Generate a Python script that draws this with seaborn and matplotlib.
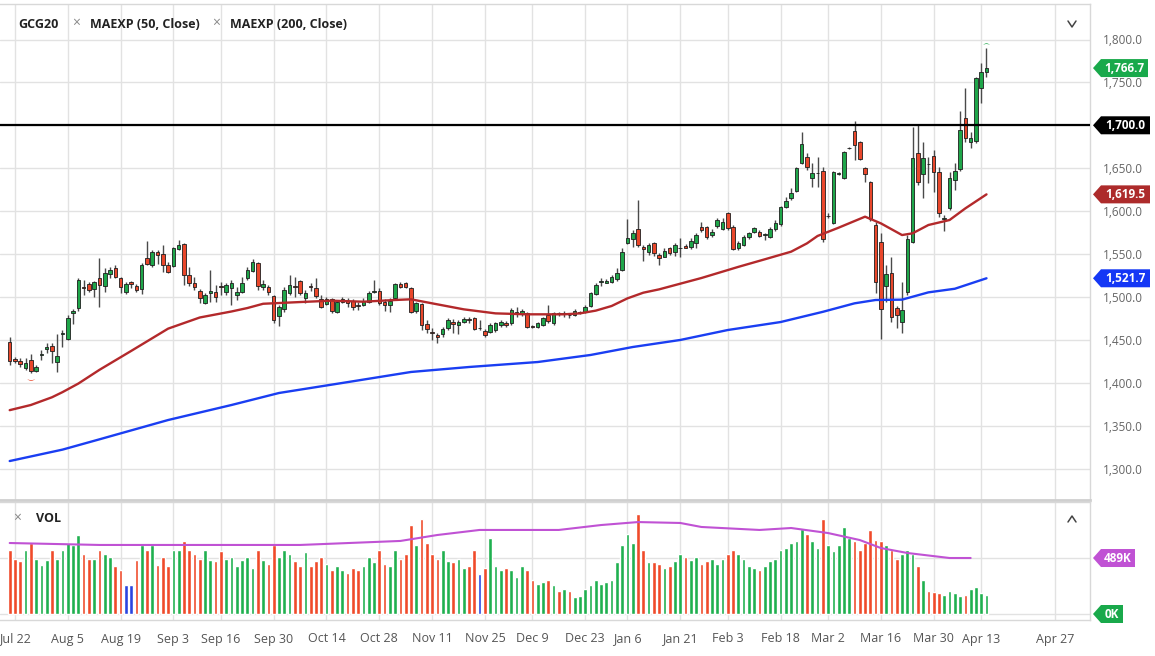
import numpy as np
import pandas as pd
import matplotlib
matplotlib.use("Agg")
import matplotlib.pyplot as plt
import seaborn as sns
from matplotlib.patches import Polygon
import matplotlib.transforms as mtrans
from matplotlib.lines import Line2D

sns.set_style("white")
plt.rcParams['font.family'] = ['Open Sans', 'DejaVu Sans']

# ---------------- data ----------------
opens = [1447.8,1427.9,1425.2,1417.5,1426.0,1413.6,1432.1,1438.8,1443.1,1424.5,1457.0,1450.5,1480.8,1486.6,1511.9,1515.4,1508.8,1521.6,1513.0,1526.3,
         1533.3,1522.4,1506.1,1517.7,1512.7,1509.2,1544.9,1537.1,1551.9,1549.6,1537.2,1536.0,1555.8,1561.7,1525.5,1516.6,1506.9,1493.3,1504.9,1506.1,
         1512.7,1506.1,1510.0,1502.2,1506.1,1521.6,1530.6,1539.9,1511.2,1511.2,1501.0,1477.7,1485.5,1504.9,1512.7,1518.5,1498.3,1512.0,1510.8,1497.6,
         1491.7,1497.2,1482.8,1494.4,1495.6,1495.2,1489.8,1490.6,1493.7,1506.0,1507.2,1494.4,1490.6,1498.3,1515.0,1515.8,1510.0,1484.0,1491.7,1468.4,
         1459.5,1455.6,1456.4,1463.4,1471.1,1467.2,1471.1,1473.1,1475.0,1463.4,1460.6,1459.5,1461.5,1467.2,1470.0,1469.2,1480.8,1480.1,1480.8,1465.3,
         1465.3,1467.2,1478.9,1470.0,1480.1,1480.0,1478.9,1478.9,1481.6,1482.8,1489.4,1503.4,1517.0,1516.6,1517.8,1520.5,1531.4,1562.4,1567.1,1578.8,
         1557.8,1552.7,1563.2,1549.0,1546.9,1556.6,1552.7,1556.6,1559.3,1558.5,1562.4,1581.1,1581.1,1572.1,1582.6,1578.8,1598.2,1581.9,1556.6,1560.5,
         1570.2,1576.0,1575.6,1572.1,1569.4,1578.8,1585.0,1605.2,1614.9,1623.8,1656.5,1662.7,1638.2,1644.0,1646.7,1593.8,1585.7,1643.5,1638.2,1673.0,
         1693.3,1680.1,1649.8,1633.5,1583.8,1563.6,1513.1,1527.5,1486.7,1471.1,1505.3,1564.4,1667.3,1642.9,1655.3,1664.6,1645.2,1590.9,1603.2,1636.2,
         1649.1,1708.1,1680.1,1681.7,1743.9,1762.0]
highs = [1453.6,1429.9,1429.1,1428.3,1433.4,1420.6,1438.1,1445.8,1445.8,1457.1,1461.4,1478.9,1485.9,1521.6,1519.7,1517.7,1518.5,1544.9,1534.0,1534.8,
         1537.1,1523.5,1517.7,1518.9,1514.6,1539.1,1565.1,1554.6,1554.6,1560.4,1541.1,1558.5,1566.3,1562.4,1535.2,1523.6,1508.8,1504.2,1531.4,1513.9,
         1517.8,1515.8,1519.7,1511.2,1523.6,1535.2,1543.8,1541.1,1519.7,1513.9,1502.2,1490.6,1511.2,1525.5,1523.6,1519.7,1508.0,1516.6,1521.6,1502.2,
         1500.3,1498.3,1496.4,1500.3,1498.3,1497.2,1494.4,1498.3,1507.2,1519.7,1510.0,1497.2,1498.3,1515.8,1517.8,1517.8,1511.2,1494.4,1492.5,1473.1,
         1463.4,1457.5,1464.5,1475.0,1473.9,1473.1,1477.0,1476.2,1476.2,1473.1,1462.2,1469.2,1471.0,1473.1,1472.3,1486.7,1488.6,1485.5,1482.8,1467.2,
         1471.1,1476.9,1490.6,1482.8,1482.8,1484.0,1481.6,1485.5,1484.0,1490.6,1506.1,1515.8,1521.6,1520.5,1525.5,1533.3,1556.6,1590.4,1578.0,1612.9,
         1560.5,1563.2,1564.4,1551.0,1556.6,1558.5,1562.4,1568.3,1561.7,1568.3,1574.9,1587.7,1582.6,1578.8,1591.6,1591.6,1599.4,1583.8,1565.5,1572.1,
         1576.0,1581.9,1578.0,1574.1,1581.1,1589.6,1605.9,1616.0,1626.5,1651.8,1692.6,1667.3,1655.7,1663.5,1651.8,1597.4,1646.7,1646.0,1670.0,1675.1,
         1705.0,1681.7,1651.8,1635.0,1587.7,1574.1,1537.2,1546.9,1489.8,1517.8,1572.1,1698.4,1700.3,1680.1,1663.4,1671.2,1651.8,1595.4,1645.9,1655.7,
         1716.7,1743.1,1692.6,1756.7,1772.2,1789.7]
lows = [1420.6,1422.5,1418.6,1414.8,1410.9,1412.8,1426.4,1434.2,1422.5,1412.0,1441.9,1449.3,1468.4,1483.9,1502.2,1506.1,1499.5,1488.6,1506.1,1521.6,
        1521.6,1504.1,1502.9,1509.9,1506.1,1502.9,1537.1,1535.2,1537.9,1529.4,1527.5,1535.2,1554.7,1513.9,1512.7,1508.0,1492.5,1491.7,1494.4,1494.4,
        1502.2,1502.2,1490.6,1496.4,1504.2,1519.7,1529.4,1508.0,1508.0,1502.2,1469.2,1466.1,1482.8,1502.2,1500.3,1502.2,1492.5,1507.2,1498.3,1486.7,
        1490.6,1480.8,1480.8,1492.5,1488.6,1484.7,1484.7,1489.4,1492.5,1504.9,1490.6,1483.9,1482.8,1497.2,1510.0,1510.0,1480.8,1481.6,1461.4,1458.3,
        1449.8,1446.7,1453.7,1461.4,1457.5,1456.7,1469.2,1470.0,1461.4,1461.4,1453.7,1458.3,1459.0,1465.3,1464.5,1467.2,1477.0,1477.7,1463.4,1463.4,
        1464.1,1466.1,1469.2,1467.2,1477.7,1476.9,1475.0,1477.7,1480.1,1480.8,1488.6,1502.2,1512.7,1515.8,1516.6,1518.9,1530.6,1561.7,1558.5,1558.5,
        1542.2,1548.8,1547.7,1537.2,1546.1,1548.8,1547.7,1546.9,1556.6,1555.4,1556.6,1576.0,1567.1,1569.4,1579.9,1578.0,1578.0,1554.7,1554.7,1559.3,
        1567.1,1574.1,1569.4,1566.3,1568.6,1577.2,1582.6,1603.6,1612.9,1622.7,1654.9,1647.9,1628.5,1628.5,1564.4,1591.6,1584.6,1642.0,1637.4,1672.4,
        1659.6,1659.6,1634.3,1588.5,1504.1,1450.9,1494.4,1471.1,1463.4,1457.5,1502.2,1562.4,1630.4,1614.9,1632.4,1622.6,1593.5,1576.8,1601.3,1624.6,
        1646.7,1680.9,1673.2,1679.0,1725.6,1756.7]
closes = [1425.6,1425.6,1421.3,1422.5,1413.6,1418.2,1433.6,1441.2,1436.9,1431.5,1457.5,1475.8,1483.5,1519.3,1510.0,1508.0,1517.0,1513.8,1527.4,1530.9,
          1523.5,1511.1,1515.4,1515.4,1508.0,1537.1,1537.9,1551.9,1548.8,1537.1,1529.4,1556.6,1560.5,1525.5,1515.8,1511.2,1499.1,1502.2,1506.9,1499.5,
          1511.2,1513.9,1516.6,1506.1,1515.8,1531.4,1541.1,1512.7,1515.0,1506.1,1473.1,1487.8,1508.0,1513.9,1511.2,1504.2,1504.2,1511.9,1501.0,1488.6,
          1497.2,1483.5,1493.7,1497.6,1492.5,1487.8,1489.5,1495.2,1504.9,1506.1,1492.5,1490.2,1495.6,1515.0,1511.9,1511.9,1482.8,1492.5,1467.2,1462.2,
          1458.3,1453.7,1462.2,1473.1,1468.4,1471.1,1473.9,1473.0,1462.2,1463.3,1455.6,1467.2,1469.0,1471.1,1467.6,1484.7,1482.8,1484.0,1464.5,1465.0,
          1469.2,1475.0,1472.3,1480.8,1480.0,1480.3,1478.7,1484.0,1481.8,1488.6,1504.2,1513.9,1518.9,1518.9,1522.8,1528.2,1552.7,1568.2,1574.9,1560.5,
          1555.4,1560.5,1551.5,1545.0,1553.9,1550.8,1560.5,1556.8,1557.4,1565.5,1572.1,1578.0,1569.4,1576.0,1589.6,1587.7,1579.9,1555.4,1562.4,1570.2,
          1574.1,1579.9,1570.9,1572.2,1578.8,1586.5,1604.4,1612.2,1621.5,1649.8,1677.8,1651.0,1644.0,1644.2,1567.5,1594.5,1645.2,1644.3,1668.5,1673.5,
          1677.0,1660.7,1642.9,1590.8,1517.0,1485.9,1526.3,1477.0,1478.9,1484.3,1567.5,1661.5,1634.3,1661.5,1654.6,1645.2,1597.4,1591.8,1638.2,1646.7,
          1694.5,1685.6,1684.8,1754.7,1762.5,1766.7]
volumes_k = [560,480,460,560,620,480,430,470,560,480,560,620,600,690,520,480,480,560,520,500,
             420,380,250,250,470,600,560,600,430,500,420,560,560,640,560,520,480,560,470,460,
             550,480,500,420,470,500,400,560,470,440,600,500,560,520,460,420,540,420,460,500,
             440,380,420,380,360,400,380,420,500,450,560,440,420,560,480,520,780,600,830,620,
             520,480,560,460,450,480,400,420,560,350,400,660,420,380,400,380,320,420,380,300,
             260,280,300,250,200,220,200,150,160,220,250,300,260,280,300,450,600,700,620,870,
             560,450,450,440,400,420,460,520,500,470,500,440,460,480,440,480,520,560,520,480,
             420,400,380,420,460,480,560,580,620,640,740,700,640,580,830,600,550,600,760,660,
             640,560,620,730,650,640,600,560,480,520,560,520,420,300,200,190,180,170,200,180,
             160,170,220,240,180,170]
blue_volume_bars = [22, 23, 89]

ema50_bar = [0, 4, 8, 10, 13, 17, 23, 30, 36, 42, 45, 48, 55, 61, 67, 73, 76, 80, 86, 92, 98, 105, 108, 111, 114, 117, 120, 123, 131, 138, 143, 148, 151, 153, 157, 162, 165, 169, 171, 174, 178, 181, 185]
ema50_val = [1368, 1374, 1383, 1389, 1399, 1415, 1437, 1463, 1476, 1483, 1487, 1492, 1494, 1495.6, 1494.4, 1496.4, 1497.2, 1492.5, 1485.5, 1480.8, 1479.7, 1479.7, 1480.8, 1484, 1489.4, 1498.3, 1504.9, 1508.8, 1522, 1535, 1543.8, 1552.7, 1562.4, 1571, 1580.7, 1593.5, 1585.7, 1572.1, 1574.1, 1583.8, 1589.6, 1603.2, 1619.5]
ema200_bar = [0, 10, 17, 30, 42, 51, 63, 76, 87, 100, 110, 118, 127, 136, 146, 154, 160, 164, 169, 174, 179, 185]
ema200_val = [1308.7, 1322, 1334, 1356.5, 1374, 1388, 1399.7, 1412.5, 1418.3, 1424.1, 1432.3, 1441.6, 1449.8, 1461.4, 1470.7, 1482.6, 1492.5, 1496.4, 1496.8, 1505.3, 1509.5, 1521.7]
volma_bar = [0, 17, 36, 55, 74, 81, 89, 104, 112, 119, 127, 131, 142, 148, 155, 161, 165, 170, 178, 182]
volma_val = [620, 603, 603, 603, 638, 690, 734, 734, 777, 803, 795, 760, 734, 751, 707, 646, 576, 533, 489, 489]

tick_dates = ["2019-07-22", "2019-08-05", "2019-08-19", "2019-09-03", "2019-09-16", "2019-09-30", "2019-10-14",
              "2019-10-28", "2019-11-11", "2019-11-25", "2019-12-09", "2019-12-23", "2020-01-06", "2020-01-21",
              "2020-02-03", "2020-02-18", "2020-03-02", "2020-03-16", "2020-03-30", "2020-04-13", "2020-04-27"]
tick_labels = ["Jul 22", "Aug 5", "Aug 19", "Sep 3", "Sep 16", "Sep 30", "Oct 14", "Oct 28", "Nov 11", "Nov 25",
               "Dec 9", "Dec 23", "Jan 6", "Jan 21", "Feb 3", "Feb 18", "Mar 2", "Mar 16", "Mar 30", "Apr 13", "Apr 27"]
holidays = ["2019-09-02", "2019-11-28", "2019-12-25", "2020-01-01", "2020-01-20", "2020-02-17", "2020-04-10"]
price_ticks = [1300, 1350, 1400, 1450, 1500, 1550, 1600, 1650, 1700, 1750, 1800]

# ---------------- calendar ----------------
days = pd.bdate_range("2019-07-19", "2020-04-14")
days = days[~days.isin(pd.to_datetime(holidays))]
n = len(days)
xs = np.arange(n)
last = days[-1]
tick_pos = []
for d in pd.to_datetime(tick_dates):
    if d <= last:
        tick_pos.append(int(days.get_indexer([d])[0]))
    else:
        tick_pos.append(n - 2 + (d - days[-2]).days)

o = np.array(opens); h = np.array(highs); l = np.array(lows); c = np.array(closes)
up = c >= o
GREEN = "#1fa64a"
RED = "#e9472b"
BLUE = "#2a45e0"

# ---------------- figure ----------------
W, H = 1155, 656
fig = plt.figure(figsize=(W / 100, H / 100), dpi=100)
def rect(x0, y0, x1, y1):
    return [x0 / W, 1 - y1 / H, (x1 - x0) / W, (y1 - y0) / H]

ax = fig.add_axes(rect(0, 4, 1090, 500))
axv = fig.add_axes(rect(0, 502, 1090, 620), sharex=ax)

px0 = 9.7; ppb = 5.28
ax.set_xlim((0 - px0) / ppb, (1090 - px0) / ppb)

def p_of_y(y):
    return 1550 - (y - 254) / 0.858
ax.set_ylim(p_of_y(500), p_of_y(4))

grid_c = "#e2e2e2"
for a in (ax, axv):
    for s in a.spines.values():
        s.set_color("#d8d8d8")
        s.set_linewidth(1)
    a.set_xticks(tick_pos)
    a.grid(axis="x", color=grid_c, lw=1)
    a.set_axisbelow(True)
    a.spines["left"].set_visible(False)
ax.spines["bottom"].set_color("#cfcfcf")
ax.spines["bottom"].set_linewidth(2)

ax.set_yticks(price_ticks)
ax.grid(axis="y", color=grid_c, lw=1)
ax.yaxis.tick_right()
ax.set_yticklabels(["" if v == 1700 else f"{v:,.1f}" for v in price_ticks])
ax.tick_params(axis="y", length=0, pad=9, labelsize=8.5, labelcolor="#666666")
ax.tick_params(axis="x", length=0, labelbottom=False)

# candles
ax.vlines(xs, l, h, color="#4a4a4a", lw=1, zorder=2)
body_bottom = np.minimum(o, c)
body_h = np.maximum(np.abs(c - o), 0.7)
ax.bar(xs, body_h, bottom=body_bottom, width=0.68,
       color=np.where(up, GREEN, RED), edgecolor="#1e1e1e", linewidth=0.6, zorder=3)

# small event markers
ax.text(4, l[4] - 3, r"$\smile$", color="#e9472b", fontsize=6, ha="center", va="top", zorder=4)
ax.text(n - 1, h[-1] + 2, r"$\frown$", color="#1fa64a", fontsize=5, ha="center", va="bottom", zorder=4)

# moving averages
sns.lineplot(x=ema50_bar, y=ema50_val, ax=ax, color="#b3292b", linewidth=1.7, estimator=None, sort=False, zorder=4)
sns.lineplot(x=ema200_bar, y=ema200_val, ax=ax, color="#1a3ef2", linewidth=1.7, estimator=None, sort=False, zorder=4)
ax.axhline(1700, color="black", lw=1.6, zorder=5)
ax.set_xlabel(""); ax.set_ylabel("")

# volume
vcol = np.where(up, "#1fb04f", "#f04a2a").astype(object)
for b in blue_volume_bars:
    vcol[b] = BLUE
axv.bar(xs, volumes_k, width=0.7, color=list(vcol), zorder=2)
sns.lineplot(x=volma_bar, y=volma_val, ax=axv, color="#c052d4", linewidth=1.5, estimator=None, sort=False, zorder=3)
def v_of_y(y):
    return (614 - y) / 0.1145
axv.set_ylim(v_of_y(620), v_of_y(502))
axv.set_yticks([0, 489])
axv.grid(axis="y", color=grid_c, lw=1)
axv.tick_params(axis="y", length=0, labelright=False, labelleft=False)
axv.set_xticklabels(tick_labels)
axv.tick_params(axis="x", length=0, pad=9, labelsize=9, labelcolor="#555555")
axv.set_xlabel(""); axv.set_ylabel("")

# right-hand value tags
def tag(a, val, text, color, per_px, right_px, ax_w=1090):
    tr = mtrans.blended_transform_factory(a.transAxes, a.transData)
    hh = 9 * per_px
    x_tip = 1093 / ax_w; x_b = 1101 / ax_w; x_r = right_px / ax_w
    poly = Polygon([[x_tip, val], [x_b, val + hh], [x_r, val + hh], [x_r, val - hh], [x_b, val - hh]],
                   closed=True, transform=tr, clip_on=False, facecolor=color, edgecolor="none", zorder=10)
    a.add_patch(poly)
    a.text((x_b + x_r) / 2, val, text, transform=tr, ha="center", va="center", color="white",
           fontsize=8.5, fontweight="bold", clip_on=False, zorder=11)

tag(ax, 1766.7, "1,766.7", "#19a94b", 1 / 0.858, 1148)
tag(ax, 1700.0, "1,700.0", "#000000", 1 / 0.858, 1150)
tag(ax, 1619.5, "1,619.5", "#ad2b2b", 1 / 0.858, 1150)
tag(ax, 1521.7, "1,521.7", "#1437f5", 1 / 0.858, 1150)
tag(axv, 489, "489K", "#c052d4", 1 / 0.1145, 1135)
tag(axv, 0, "0K", "#19a94b", 1 / 0.1145, 1123)

# header texts
def ftxt(x, y, s, **kw):
    fig.text(x / W, 1 - y / H, s, va="center", **kw)
ftxt(18, 24, "GCG20", fontsize=9, fontweight="bold", color="#222222")
ftxt(72, 23, "×", fontsize=10, color="#888888")
ftxt(90, 24, "MAEXP (50, Close)", fontsize=9, fontweight="bold", color="#222222")
ftxt(212, 23, "×", fontsize=10, color="#888888")
ftxt(230, 24, "MAEXP (200, Close)", fontsize=9, fontweight="bold", color="#222222")
ftxt(13, 518, "×", fontsize=10, color="#888888")
ftxt(36, 519, "VOL", fontsize=9, fontweight="bold", color="#222222")

def chevron(xc, yc, down=True):
    d = 3 if down else -3
    xs_ = [(xc - 4) / W, xc / W, (xc + 4) / W]
    ys_ = [1 - (yc - d) / H, 1 - (yc + d) / H, 1 - (yc - d) / H]
    fig.add_artist(Line2D(xs_, ys_, color="#444444", lw=1.1))
chevron(1072, 24, True)
chevron(1072, 519, False)

fig.savefig("out.png", dpi=100)
